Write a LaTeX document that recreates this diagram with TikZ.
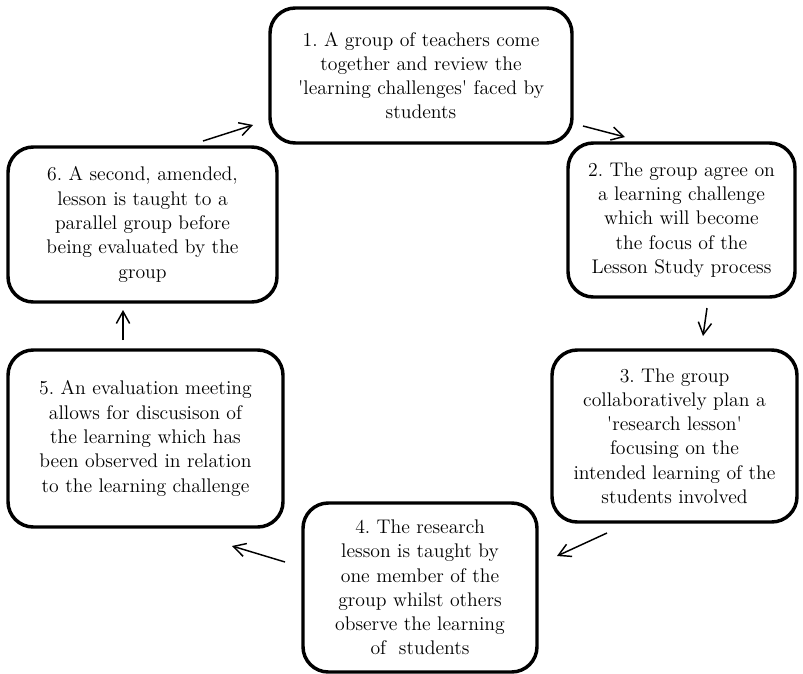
\documentclass[tikz,border=0pt]{standalone}
\usetikzlibrary{arrows.meta}
\frenchspacing

\tikzset{
	stage/.style = {draw, line width = 2.6pt, rounded corners = 19pt, align = center, inner sep = 0pt, font = \fontsize{14.8}{18.2}\selectfont},
	turn/.style = {line width = 1.1pt, -{Straight Barb[length = 9pt, width = 10pt]}}
}

\begin{document}
\begin{tikzpicture}[x = 0.75pt, y = -0.75pt]
							\useasboundingbox (0, 0) rectangle (803, 674);
							\node [stage, minimum width = 226.5pt, minimum height = 101.25pt] (review) at (421, 75.5) {1. A group of teachers come\\together and review the\\\textquotesingle learning challenges\textquotesingle{} faced by\\students};
							\node [stage, minimum width = 170.25pt, minimum height = 115.5pt] (agree) at (681.5, 220) {2. The group agree on\\a learning challenge\\which will become\\the focus of the\\Lesson Study process};
							\node [stage, minimum width = 183.75pt, minimum height = 129pt] (plan) at (674.5, 436) {3. The group\\collaboratively plan a\\\textquotesingle research lesson\textquotesingle\\focusing on the\\intended learning of the\\students involved};
							\node [stage, minimum width = 175.5pt, minimum height = 126.75pt] (teach) at (420, 587.5) {4. The research\\lesson is taught by\\one member of the\\group whilst others\\observe the learning\\of~ students};
							\node [stage, minimum width = 206.25pt, minimum height = 132.75pt] (evaluate) at (145.5, 438.5) {5. An evaluation meeting\\allows for discusison of\\the learning which has\\been observed in relation\\to the learning challenge};
							\node [stage, minimum width = 201.75pt, minimum height = 116.25pt] (reteach) at (142.5, 224.5) {6. A second, amended,\\lesson is taught to a\\parallel group before\\being evaluated by the\\group};
							\coordinate (r6) at (203, 141);
							\coordinate (r1) at (253, 125);
							\coordinate (a1) at (583, 126);
							\coordinate (a2) at (625, 137);
							\coordinate (p2) at (707, 308);
							\coordinate (p3) at (703, 336);
							\coordinate (t3) at (607, 533);
							\coordinate (t4) at (557, 556);
							\coordinate (e4) at (285, 562);
							\coordinate (e5) at (232, 546);
							\coordinate (s5) at (123, 340);
							\coordinate (s6) at (123, 310);
							\draw [turn] (r6) -- (r1);
							\draw [turn] (a1) -- (a2);
							\draw [turn] (p2) -- (p3);
							\draw [turn] (t3) -- (t4);
							\draw [turn] (e4) -- (e5);
							\draw [turn] (s5) -- (s6);
						\end{tikzpicture}
\end{document}
